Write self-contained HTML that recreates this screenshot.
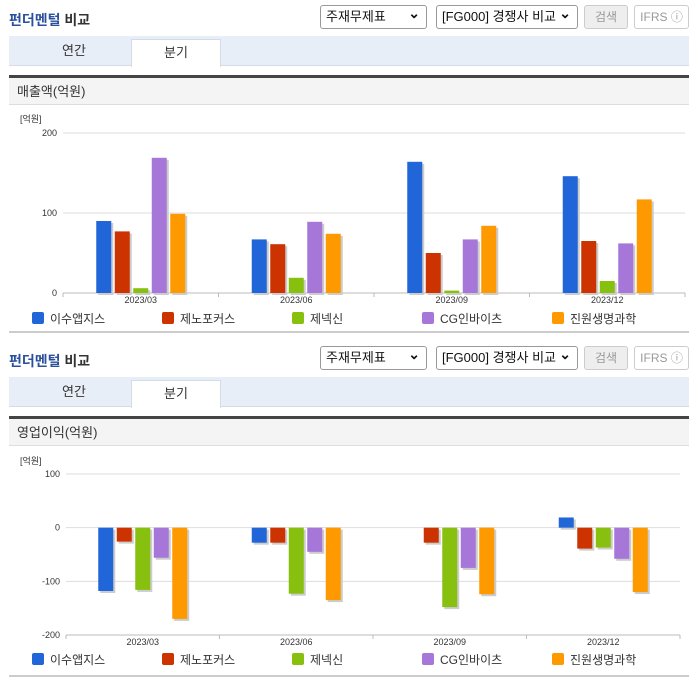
<!DOCTYPE html>
<html><head><meta charset="utf-8">
<style>
*{margin:0;padding:0;box-sizing:border-box}
body{width:696px;height:684px;background:#fff;font-family:"Liberation Sans","Noto Sans CJK KR",sans-serif;position:relative;overflow:hidden;color:#333}
.sec{position:absolute;left:0;width:696px}
.title{position:absolute;left:9px;font-size:14px;font-weight:bold;color:#2a4f9c}
.title span{color:#333}
.sel{position:absolute;height:24px;border:1px solid #999;border-radius:3px;background:#fff;font-size:13px;line-height:22px;padding-left:5px;color:#111}
.sel:after{content:"⌄";position:absolute;right:6px;top:-4px;font-size:14px;font-weight:bold}
.btn{position:absolute;height:24px;border:1px solid #ccc;border-radius:3px;font-size:12px;line-height:22px;text-align:center;color:#999}
.tabs{position:absolute;left:9px;width:680px;height:30px;background:#e8eef7;border-bottom:1px solid #d5dce6}
.tab{position:absolute;top:0;width:90px;height:30px;text-align:center;line-height:30px;font-size:13px;color:#333}
.tab.on{background:#fff;border:1px solid #d5dce6;border-bottom:none;left:122px;top:3px;height:28px;line-height:26px}
.darkline{position:absolute;left:9px;width:680px;height:3px;background:#444}
.sub{position:absolute;left:9px;width:680px;height:27px;background:#f4f4f4;border-bottom:1px solid #ddd;font-size:13px;line-height:27px;padding-left:8px}
.bot{position:absolute;left:9px;width:680px;height:2px;background:#ccc}
svg{position:absolute;left:0}
</style></head><body>

<div class="sec" style="top:0">
<div class="title" style="top:10px">펀더멘털 <span>비교</span></div>
<div class="sel" style="left:320px;top:5px;width:107px">주재무제표</div>
<div class="sel" style="left:436px;top:5px;width:142px">[FG000] 경쟁사 비교</div>
<div class="btn" style="left:584px;top:5px;width:44px;background:#eee">검색</div>
<div class="btn" style="left:634px;top:5px;width:55px">IFRS ⓘ</div>
<div class="tabs" style="top:36px">
<div class="tab" style="left:20px">연간</div>
<div class="tab on">분기</div></div>
<div class="darkline" style="top:75px"></div>
<div class="sub" style="top:78px">매출액(억원)</div>
<div class="bot" style="top:331px"></div>
</div>

<div class="sec" style="top:0">
<div class="title" style="top:351px">펀더멘털 <span>비교</span></div>
<div class="sel" style="left:320px;top:346px;width:107px">주재무제표</div>
<div class="sel" style="left:436px;top:346px;width:142px">[FG000] 경쟁사 비교</div>
<div class="btn" style="left:584px;top:346px;width:44px;background:#eee">검색</div>
<div class="btn" style="left:634px;top:346px;width:55px">IFRS ⓘ</div>
<div class="tabs" style="top:377px">
<div class="tab" style="left:20px">연간</div>
<div class="tab on">분기</div></div>
<div class="darkline" style="top:416px"></div>
<div class="sub" style="top:419px">영업이익(억원)</div>
<div class="bot" style="top:675px"></div>
</div>

<svg id="c1" width="696" height="684" style="top:0"></svg>
<svg id="c2" width="696" height="684" style="top:0"></svg>

<script>
const categories=["2023/03","2023/06","2023/09","2023/12"];
const seriesNames=["이수앱지스","제노포커스","제넥신","CG인바이츠","진원생명과학"];
const colors=["#2166d9","#cc3300","#88c010","#a677d9","#ff9900"];
const sales0=[90,67,164,146];
const sales1=[77,61,50,65];
const sales2=[6,19,3,15];
const sales3=[169,89,67,62];
const sales4=[99,74,84,117];
const op0=[-118,-28,0,19];
const op1=[-26,-28,-28,-39];
const op2=[-116,-123,-148,-37];
const op3=[-56,-45,-75,-58];
const op4=[-170,-135,-124,-120];
const ticks1=[0,100,200];
const ticks2=[-200,-100,0,100];
const NS="http://www.w3.org/2000/svg";
function mk(svg,tag,attrs,txt){const e=document.createElementNS(NS,tag);for(const k in attrs)e.setAttribute(k,attrs[k]);if(txt!==undefined)e.textContent=txt;svg.appendChild(e);return e;}
function draw(id,series,ticks,yMin,yMax,yTop,yBot,x0,x1,legY,unitY){
 const svg=document.getElementById(id);
 const y=v=>yBot-(v-yMin)/(yMax-yMin)*(yBot-yTop);
 const cw=(x1-x0)/categories.length;
 const u=mk(svg,'text',{x:20,y:unitY,'font-size':9,fill:'#333'},'[억원]');
 
 ticks.forEach(t=>{
  const l=mk(svg,'line',{x1:x0,x2:x1,y1:y(t),y2:y(t),stroke:'#ddd'});
  
  const tx=mk(svg,'text',{x:x0-6,y:y(t)+3,'font-size':9,fill:'#333','text-anchor':'end'},t);
  
 });
 const ax=mk(svg,'line',{x1:x0,x2:x1,y1:yBot,y2:yBot,stroke:'#bbb'});
 
 for(let i=0;i<=categories.length;i++){mk(svg,'line',{x1:x0+i*cw,x2:x0+i*cw,y1:yBot,y2:yBot+4,stroke:'#bbb'});}
 const bw=15,step=18.5;
 categories.forEach((c,i)=>{
  const cx=x0+cw*(i+0.5);
  const lab=mk(svg,'text',{x:cx,y:yBot+10,'font-size':9,fill:'#333','text-anchor':'middle'},c);
  
  series.forEach((s,j)=>{
   const v=s[i]; if(v===0) return;
   const bx=cx+(j-2)*step-bw/2;
   const top=Math.min(y(v),y(0)), h=Math.abs(y(v)-y(0));
   mk(svg,'rect',{x:bx+2,y:top+2,width:bw,height:h,fill:'#ccc'});
   const r=mk(svg,'rect',{x:bx,y:top,width:bw,height:h,fill:colors[j]});
   
   
  });
 });
 const lx=[32,162,292,422,552];
 seriesNames.forEach((n,j)=>{
  const g=mk(svg,'g',{});
  
  
  mk(g,'rect',{x:lx[j],y:legY-6,width:12,height:12,rx:2,fill:colors[j]});
  mk(g,'text',{x:lx[j]+18,y:legY+5,'font-size':12,fill:'#333'},n);
 });
}
draw('c1',[sales0,sales1,sales2,sales3,sales4],ticks1,0,200,133,293,63,685,318,122);
draw('c2',[op0,op1,op2,op3,op4],ticks2,-200,100,474,635,66,680,659,464);
</script>
</body></html>
